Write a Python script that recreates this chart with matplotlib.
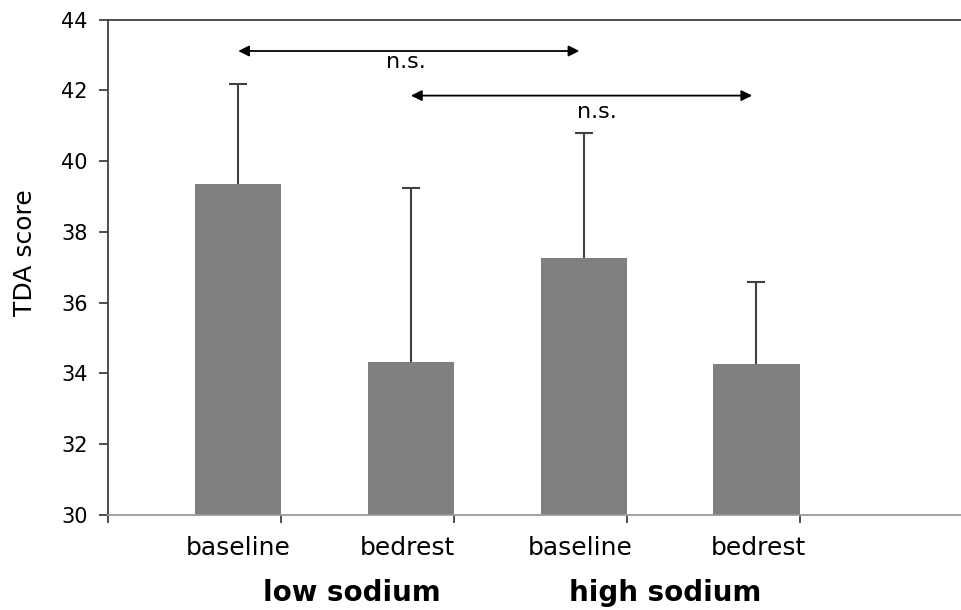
import numpy as np
import matplotlib
matplotlib.use("Agg")
import matplotlib.pyplot as plt
import matplotlib.transforms as mtransforms

# --- data ---
conditions = ["baseline", "bedrest", "baseline", "bedrest"]
groups = ["low sodium", "high sodium"]
means = [39.34, 34.31, 37.25, 34.27]
upper_err = [2.83, 4.93, 3.54, 2.31]
# significance comparisons: (from bar, to bar, label)
comparisons = [(0, 2, "n.s."), (1, 3, "n.s.")]
y_ticks = [30, 32, 34, 36, 38, 40, 42, 44]

plt.rcParams.update({
    "font.family": "DejaVu Sans",
    "axes.linewidth": 1.3,
})

fig = plt.figure(figsize=(9.62, 6.10), dpi=100)
ax = fig.add_axes([108 / 962, 95 / 610, 1 - 108 / 962, 495.5 / 610])

x = np.arange(len(means))
ax.bar(x, means, width=0.5, color="#808080", edgecolor="none", zorder=2)
eb = ax.errorbar(x, means, yerr=[np.zeros(len(means)), upper_err], fmt="none",
                 ecolor="#404040", elinewidth=1.5, capsize=6.5, capthick=1.5, zorder=3)
# only the upper whisker has a cap
eb[1][0].set_visible(False)

ax.set_ylim(30, 44)
ax.set_xlim(-0.754, 4.19)
ax.set_yticks(y_ticks)
ax.tick_params(axis="y", direction="out", length=6.5, width=1.3, color="#404040",
               labelsize=15, pad=8)

# category boundary ticks (no labels) and centred condition labels
ax.set_xticks([-0.754] + [i + 0.25 for i in x])
ax.set_xticklabels([""] * (len(x) + 1))
ax.tick_params(axis="x", which="major", direction="out", length=6, width=1.3,
               color="#404040")
ax.set_xticks([0.0, 0.98, 1.98, 3.01], minor=True)
ax.set_xticklabels(conditions, minor=True)
ax.tick_params(axis="x", which="minor", length=0, labelsize=18, pad=15)

for side in ["top", "left"]:
    ax.spines[side].set_color("#404040")
ax.spines["bottom"].set_color("#9a9a9a")
ax.spines["right"].set_visible(False)

# group labels below the axis
trans = mtransforms.blended_transform_factory(ax.transData, ax.transAxes)
for gx, g in zip([0.656, 2.47], groups):
    ax.text(gx, -0.157, g, transform=trans, ha="center", va="center",
            fontsize=20, fontweight="bold")

# significance arrows
arrow_y = [43.11, 41.85]
label_pos = [(0.97, 42.8), (2.074, 41.4)]
for (a, b, lab), yy, (lx, ly) in zip(comparisons, arrow_y, label_pos):
    ax.annotate("", xy=(b - 0.025, yy), xytext=(a, yy),
                arrowprops=dict(arrowstyle="<|-|>", color="black", lw=1.3,
                                mutation_scale=16, shrinkA=0, shrinkB=0))
    ax.text(lx, ly, lab, ha="center", va="center", fontsize=16)

fig.text(25 / 962, 1 - 253 / 610, "TDA score", rotation=90, ha="center",
         va="center", fontsize=18)

fig.savefig("out.png", dpi=100)
